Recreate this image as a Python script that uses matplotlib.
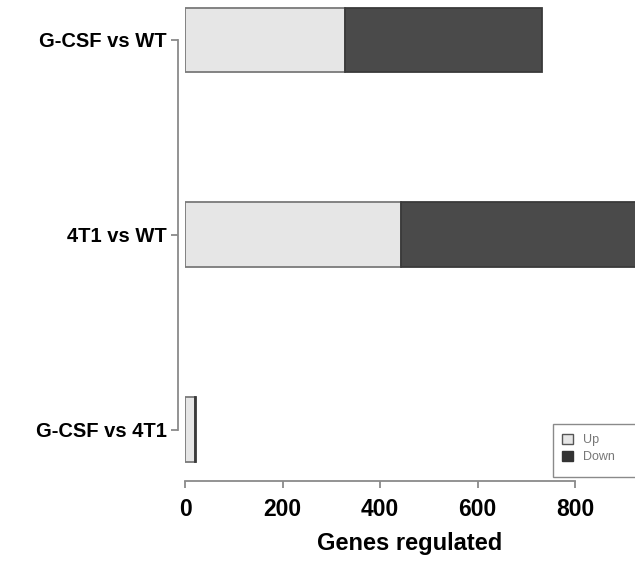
import matplotlib
matplotlib.use("Agg")
import matplotlib.pyplot as plt
from matplotlib.patches import Patch, Rectangle

# comparisons, bottom to top as drawn
comparisons = ["G-CSF vs 4T1", "4T1 vs WT", "G-CSF vs WT"]
up = [20, 443, 328]
down = [2, 560, 404]
xticks = [0, 200, 400, 600, 800]

plt.rcParams['font.family'] = ['Liberation Sans', 'DejaVu Sans']
axis_grey = '#8a8a8a'

fig = plt.figure(figsize=(6.35, 5.73), dpi=100)
W, H = 635, 573
# axes placed in pixels: left edge at x=0 value, right edge cut by the figure
ax = fig.add_axes([185 / W, 1 - 467 / H, 450 / W, 467 / H])

ypos = list(range(len(comparisons)))
ax.barh(ypos, up, height=0.333, color='#e6e6e6', edgecolor='#7a7a7a', linewidth=1.3, label='Up')
ax.barh(ypos, down, left=up, height=0.333, color='#4a4a4a', edgecolor='#3a3a3a', linewidth=1.3, label='Down')

ax.set_xlim(0, 923)
ax.set_ylim(-0.19, 2.205)

for s in ['top', 'right']:
    ax.spines[s].set_visible(False)
ax.spines['bottom'].set_position(('outward', 10))
ax.spines['left'].set_position(('outward', 5))
ax.spines['bottom'].set_bounds(0, 800)
ax.spines['left'].set_bounds(0, 2)
for s in ['bottom', 'left']:
    ax.spines[s].set_color(axis_grey)
    ax.spines[s].set_linewidth(1.3)

ax.set_xticks(xticks)
ax.set_xticklabels([str(t) for t in xticks], fontsize=16.5, fontweight='bold')
ax.set_yticks(ypos)
ax.set_yticklabels(comparisons, fontsize=14.5, fontweight='bold')
ax.tick_params(axis='both', color=axis_grey, width=1.3, length=5, direction='out')
ax.tick_params(axis='x', pad=7)
ax.tick_params(axis='y', pad=3)
ax.set_xlabel('Genes regulated', fontsize=17, fontweight='bold', labelpad=8)

# legend box runs off the right edge, as in the cropped original
fig.patches.append(Rectangle((553 / W, 1 - 477 / H), 120 / W, 53 / H, transform=fig.transFigure,
                             facecolor='white', edgecolor=axis_grey, linewidth=1.0))
handles = [Patch(facecolor='#e6e6e6', edgecolor='#555555', label='Up'),
           Patch(facecolor='#333333', edgecolor='#333333', label='Down')]
fig.legend(handles=handles, loc='upper left', bbox_to_anchor=(562 / W, 1 - 434 / H),
           fontsize=9, frameon=False, borderaxespad=0, borderpad=0,
           handlelength=0.9, handleheight=0.9, handletextpad=0.8,
           labelspacing=0.35, labelcolor='#777777')

fig.savefig('out.png', dpi=100)
